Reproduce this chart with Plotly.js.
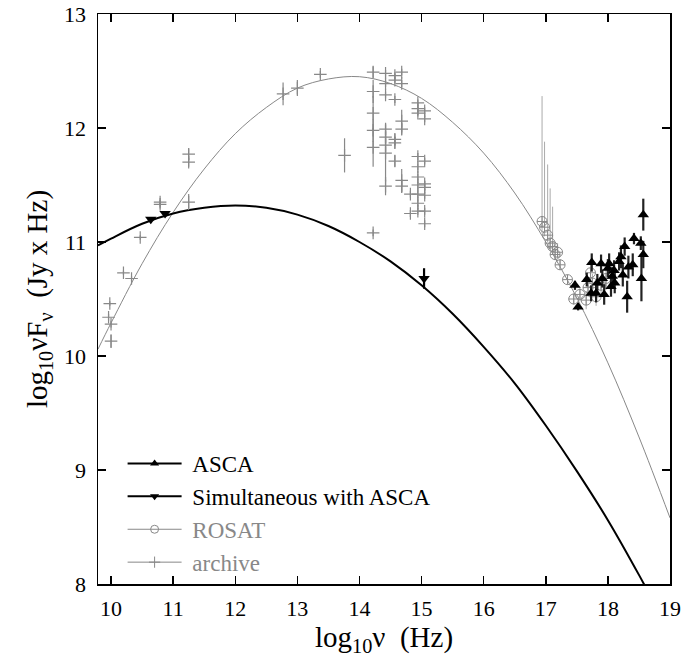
<!DOCTYPE html>
<html>
<head>
<meta charset="utf-8">
<script src="https://cdn.plot.ly/plotly-3.0.1.min.js"></script>
<style>html,body{margin:0;padding:0;background:#fff;}#chart{width:696px;height:664px;}</style>
</head>
<body>
<div id="chart"></div>
<script>
// Model curves
const modelX = [9.79, 10, 10.5, 11, 11.5, 12, 12.5, 13, 13.5, 14, 14.5, 15, 15.5, 16, 16.5, 17, 17.5, 18, 18.5, 19];
const archiveModelY = [10.06, 10.29, 10.81, 11.26, 11.64, 11.95, 12.18, 12.35, 12.43, 12.45, 12.39, 12.26, 12.05, 11.78, 11.43, 11.00, 10.51, 9.94, 9.29, 8.58];
const simModelY = [10.97, 11.03, 11.16, 11.25, 11.30, 11.32, 11.30, 11.24, 11.14, 11.00, 10.83, 10.62, 10.37, 10.08, 9.76, 9.39, 8.99, 8.56, 8.08, 7.57];

// ASCA
const ascaX = [17.47, 17.52, 17.66, 17.74, 17.73, 17.83, 17.89, 17.94, 18.00, 18.02, 18.07, 18.11, 18.18, 18.21, 18.24, 18.27, 18.31, 18.33, 18.40, 18.42, 18.53, 18.57, 18.57, 18.54, 18.10, 17.91, 17.81, 18.05];
const ascaY = [10.62, 10.43, 10.67, 10.82, 10.55, 10.64, 10.81, 10.54, 10.77, 10.81, 10.70, 10.64, 10.83, 10.87, 10.71, 10.96, 10.52, 10.78, 10.80, 11.03, 10.99, 11.24, 10.89, 10.68, 10.75, 10.68, 10.55, 10.61];
const ascaErr = [0.04, 0.03, 0.06, 0.08, 0.07, 0.08, 0.08, 0.09, 0.08, 0.09, 0.08, 0.09, 0.08, 0.10, 0.10, 0.08, 0.14, 0.10, 0.10, 0.05, 0.06, 0.14, 0.12, 0.20, 0.09, 0.08, 0.08, 0.09];

// Simultaneous with ASCA
const simX = [10.64, 10.87, 15.04];
const simY = [11.20, 11.25, 10.68];
const simErr = [0.01, 0.01, 0.09];

// ROSAT
const rosatX = [16.94, 16.98, 17.03, 17.07, 17.11, 17.15, 17.19, 17.23, 17.35, 17.45, 17.55, 17.65, 17.68, 17.72, 17.75, 17.81, 17.89, 17.97];
const rosatY = [11.18, 11.13, 11.06, 10.99, 10.96, 10.89, 10.91, 10.80, 10.67, 10.50, 10.54, 10.49, 10.60, 10.73, 10.64, 10.52, 10.62, 10.68];
const rosatErrUp = [1.10, 0.75, 0.62, 0.48, 0.35, 0.10, 0.08, 0.05, 0.04, 0.05, 0.06, 0.08, 0.08, 0.07, 0.08, 0.08, 0.08, 0.10];
const rosatErrDown = [0.10, 0.08, 0.06, 0.05, 0.05, 0.05, 0.05, 0.04, 0.04, 0.05, 0.06, 0.08, 0.08, 0.07, 0.08, 0.08, 0.08, 0.10];

// Archive
const archiveX = [9.98, 9.96, 10.00, 10.00, 10.20, 10.33, 10.47, 10.79, 10.79, 11.25, 11.25, 11.25, 12.77, 13.00, 13.37, 13.76,
  14.22, 14.22, 14.22, 14.22, 14.22, 14.22,
  14.42, 14.42, 14.42, 14.42, 14.42, 14.42, 14.42, 14.42,
  14.57, 14.57, 14.57, 14.57, 14.57, 14.57,
  14.68, 14.68, 14.68, 14.68, 14.68, 14.68,
  14.82, 14.82,
  14.94, 14.94, 14.94, 14.94, 14.94, 14.94, 14.94, 14.94, 14.94, 14.94,
  15.05, 15.05, 15.05, 15.05, 15.05, 15.05, 15.05, 15.05];
const archiveY = [10.46, 10.34, 10.28, 10.13, 10.73, 10.68, 11.04, 11.35, 11.33, 11.77, 11.70, 11.35, 12.30, 12.35, 12.47, 11.76,
  12.49, 12.32, 12.13, 11.98, 11.83, 11.08,
  12.48, 12.39, 12.29, 11.99, 11.92, 11.85, 11.78, 11.49,
  12.46, 12.42, 12.25, 11.90, 11.87, 11.71,
  12.49, 12.39, 12.06, 11.99, 11.54, 11.49,
  11.42, 11.25,
  12.22, 12.17, 12.13, 11.75, 11.66, 11.57, 11.50, 11.42, 11.34, 11.27,
  12.15, 12.08, 11.71, 11.51, 11.48, 11.41, 11.27, 11.16];
const archiveErr = [0.02, 0.03, 0.03, 0.06, 0.02, 0.02, 0.02, 0.02, 0.02, 0.05, 0.04, 0.07, 0.10, 0.07, 0.03, 0.15,
  0.05, 0.10, 0.15, 0.10, 0.17, 0.03,
  0.03, 0.03, 0.03, 0.05, 0.05, 0.08, 0.25, 0.08,
  0.03, 0.03, 0.03, 0.05, 0.05, 0.05,
  0.03, 0.03, 0.10, 0.05, 0.10, 0.06,
  0.03, 0.03,
  0.03, 0.03, 0.03, 0.03, 0.03, 0.03, 0.03, 0.03, 0.03, 0.03,
  0.03, 0.03, 0.03, 0.03, 0.03, 0.03, 0.03, 0.03];

// Legend labels
const legendNames = ['ASCA', 'Simultaneous with ASCA', 'ROSAT', 'archive'];

const GRAY = '#888888';
const BLACK = '#000000';
const serif = '"Liberation Serif", "DejaVu Serif", serif';

const traces = [
  {x: modelX, y: archiveModelY, mode: 'lines', line: {color: GRAY, width: 1, shape: 'spline'}, showlegend: false, hoverinfo: 'skip'},
  {x: modelX, y: simModelY, mode: 'lines', line: {color: BLACK, width: 2, shape: 'spline'}, showlegend: false, hoverinfo: 'skip'},
  {x: archiveX, y: archiveY, mode: 'markers', showlegend: false,
   marker: {symbol: 'cross-thin-open', size: 9, color: GRAY, line: {color: GRAY, width: 1.2}},
   error_y: {type: 'data', array: archiveErr, color: GRAY, thickness: 1.2, width: 0}},
  {x: rosatX, y: rosatY, mode: 'markers', showlegend: false,
   marker: {symbol: 'circle-cross-open', size: 10, color: GRAY, line: {color: GRAY, width: 1}},
   error_y: {type: 'data', symmetric: false, array: rosatErrUp, arrayminus: rosatErrDown, color: '#aaaaaa', thickness: 1, width: 0}},
  {x: ascaX, y: ascaY, mode: 'markers', showlegend: false,
   marker: {symbol: 'triangle-up', size: 10, color: BLACK},
   error_y: {type: 'data', array: ascaErr, color: '#222222', thickness: 2.2, width: 0}},
  {x: simX, y: simY, mode: 'markers', showlegend: false,
   marker: {symbol: 'triangle-down', size: 10, color: BLACK},
   error_y: {type: 'data', array: simErr, color: BLACK, thickness: 2.2, width: 0}},
  // legend entries
  {x: [null], y: [null], mode: 'lines+markers', name: '&nbsp;' + legendNames[0], line: {color: BLACK, width: 2}, marker: {symbol: 'triangle-up', size: 8, color: BLACK}},
  {x: [null], y: [null], mode: 'lines+markers', name: '&nbsp;' + legendNames[1], line: {color: BLACK, width: 2}, marker: {symbol: 'triangle-down', size: 8, color: BLACK}},
  {x: [null], y: [null], mode: 'lines+markers', name: '&nbsp;<span style="color:#888888">' + legendNames[2] + '</span>', line: {color: GRAY, width: 1}, marker: {symbol: 'circle-open', size: 8, color: GRAY, line: {color: GRAY, width: 1}}},
  {x: [null], y: [null], mode: 'lines+markers', name: '&nbsp;<span style="color:#888888">' + legendNames[3] + '</span>', line: {color: GRAY, width: 1}, marker: {symbol: 'cross-thin-open', size: 8, color: GRAY, line: {color: GRAY, width: 1}}}
];

const axisCommon = {
  showgrid: false, zeroline: false, showline: true, linecolor: BLACK, linewidth: 1.5, mirror: 'ticks',
  ticks: 'inside', ticklen: 8, tickwidth: 1.5, tickcolor: BLACK,
  tickfont: {family: serif, size: 22, color: BLACK}
};

const layout = {
  width: 696, height: 664,
  margin: {l: 98, r: 26, t: 14, b: 80},
  paper_bgcolor: '#ffffff', plot_bgcolor: '#ffffff',
  showlegend: true,
  legend: {x: 0.043, y: 0.0, xanchor: 'left', yanchor: 'bottom', bgcolor: 'rgba(0,0,0,0)',
           font: {family: serif, size: 23, color: BLACK}, itemwidth: 54, tracegroupgap: 0},
  xaxis: Object.assign({}, axisCommon, {
    range: [9.79, 19.0], tickvals: [10, 11, 12, 13, 14, 15, 16, 17, 18, 19], ticklabelstandoff: 4,
    title: {text: 'log<sub>10</sub>ν&nbsp;&nbsp;(Hz)', font: {family: serif, size: 29, color: BLACK}, standoff: 2}
  }),
  yaxis: Object.assign({}, axisCommon, {
    range: [8, 13], tickvals: [8, 9, 10, 11, 12, 13], ticklabelstandoff: 6,
    title: {text: 'log<sub>10</sub>νF<sub>ν</sub>&nbsp;&nbsp;(Jy x Hz)', font: {family: serif, size: 29, color: BLACK}, standoff: 8}
  })
};

Plotly.newPlot('chart', traces, layout, {staticPlot: true, displayModeBar: false});
</script>
</body>
</html>
